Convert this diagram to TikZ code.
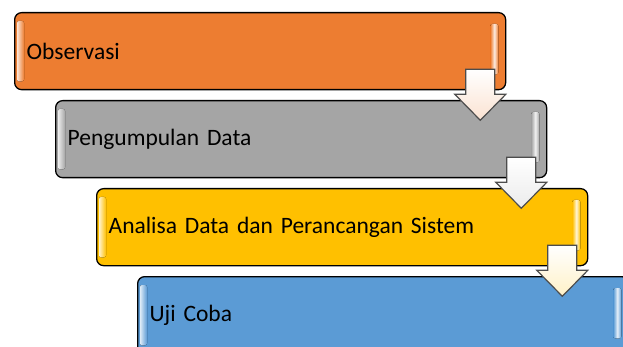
\documentclass[tikz,border=0pt]{standalone}
\usepackage{fontspec}
\setmainfont{Carlito}
\usetikzlibrary{calc}
\definecolor{cOrange}{HTML}{ED7D31}
\definecolor{cGrey}{HTML}{A5A5A5}
\definecolor{cGold}{HTML}{FFC000}
\definecolor{cBlue}{HTML}{5B9BD5}
\newcommand\glossbox[2]{%
  \fill[left color=white!80!#2, right color=#2, rounded corners=2pt]
    ($(#1.north west)+(3,9)$) rectangle ($(#1.south west)+(10,-9)$);
  \fill[left color=#2, right color=#2, middle color=white!85!#2, rounded corners=2pt]
    ($(#1.north east)+(-16,12)$) rectangle ($(#1.south east)+(-8,-16)$);
}
\newcommand\flowarrow[3]{%
  \draw[blockarrow=#3]
    ($(#1.south east)+(-40.5,-21)$) -- ++(29,0) -- ++(0,25) -- ++(11,0)
    -- ++(-25.5,26) -- ++(-25.5,-26) -- ++(11,0) -- cycle;
}
\begin{document}
\begin{tikzpicture}[x=1pt,y=-1pt,
  stepbox/.style={draw=black, line width=1.3pt, rounded corners=7pt,
    minimum width=491pt, minimum height=77pt, anchor=north west,
    text width=467pt, align=left, inner xsep=12pt, inner ysep=0pt,
    font=\fontsize{23.5}{28}\selectfont, fill=#1},
  blockarrow/.style={draw=black!70, line width=1.2pt, line join=miter,
    top color=white, bottom color=#1!22!white}]
\path[use as bounding box] (0,0) rectangle (623,347);
\clip (0,0) rectangle (623,347);
\node[stepbox=cOrange] (b1) at (14,12) {Observasi};
\node[stepbox=cGrey] (b2) at (55,100) {Pengumpulan Data};
\node[stepbox=cGold] (b3) at (96,188) {Analisa Data dan Perancangan Sistem};
\node[stepbox=cBlue] (b4) at (137,276) {Uji Coba};
\glossbox{b1}{cOrange}
\glossbox{b2}{cGrey}
\glossbox{b3}{cGold}
\glossbox{b4}{cBlue}
\flowarrow{b1}{b2}{cOrange}
\flowarrow{b2}{b3}{cGrey}
\flowarrow{b3}{b4}{cGold}
\end{tikzpicture}
\end{document}
